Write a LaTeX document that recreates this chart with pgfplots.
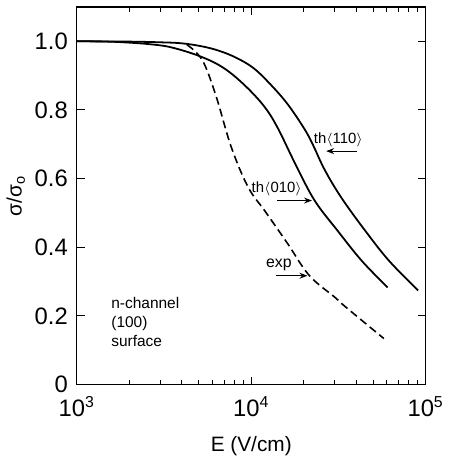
\documentclass[border=0pt]{standalone}
\usepackage{fontspec}
\setmainfont{Liberation Sans}
\usepackage{pgfplots}
\pgfplotsset{compat=1.18}
\usetikzlibrary{arrows.meta}

\begin{document}
\begin{tikzpicture}
\begin{axis}[
   xmode=log,
   scale only axis,
   width=176pt, height=190.5pt,
   xmin=1000, xmax=100000,
   ymin=0, ymax=1.1,
   xtick={1000,10000,100000},
   xticklabels={10\textsuperscript{3},10\textsuperscript{4},10\textsuperscript{5}},
   ytick={0,0.2,0.4,0.6,0.8,1.0},
   yticklabels={0,0.2,0.4,0.6,0.8,1.0},
   tick label style={font=\fontsize{12}{14}\selectfont},
   xticklabel style={yshift=-2.5pt},
   yticklabel style={xshift=-1pt},
   xlabel={E (V/cm)},
   ylabel={σ/σ\textsubscript{o}},
   label style={font=\fontsize{10.5}{12}\selectfont},
   axis line style={line width=0.7pt},
   major tick length=4pt, minor tick length=2.5pt,
   every tick/.style={line width=0.5pt, black},
   xlabel style={yshift=-3pt},
   ylabel style={yshift=-2pt},
   clip=false,
   ]
%% th<110>
\addplot[black, line width=0.9pt, smooth, tension=0.6] coordinates {
 (1000,1.0) (2000,0.999) (3000,0.997) (4000,0.994) (5240,0.985) (6560,0.972)
 (8200,0.952) (10300,0.922) (12800,0.876) (16100,0.818) (20100,0.746)
 (22500,0.70) (26400,0.625) (33000,0.543) (45200,0.447) (61800,0.36)
 (90600,0.274)};
%% th<010>
\addplot[black, line width=0.9pt, smooth, tension=0.6] coordinates {
 (1000,1.0) (1500,0.999) (2000,0.996) (2670,0.991) (3500,0.982) (5100,0.956)
 (6860,0.924) (8990,0.876) (11750,0.813) (14100,0.75) (18000,0.64)
 (23100,0.536) (31400,0.447) (43100,0.36) (60500,0.283)};
%% exp
\addplot[black, line width=0.8pt, smooth, tension=0.6, dash pattern=on 4pt off 2.2pt] coordinates {
 (4280,0.99) (5240,0.945) (6270,0.842) (7670,0.693) (9600,0.575)
 (12000,0.505) (16100,0.412) (21500,0.318) (30200,0.254) (34400,0.228)
 (57600,0.134)};

\node[font=\fontsize{7.5}{9}\selectfont] at (axis cs:31600,0.712) {th$\langle$110$\rangle$};
\draw[-{Stealth[length=4pt]}, line width=0.6pt] (axis cs:40300,0.68) -- (axis cs:26900,0.68);
\node[font=\fontsize{7.5}{9}\selectfont] at (axis cs:14000,0.57) {th$\langle$010$\rangle$};
\draw[-{Stealth[length=4pt]}, line width=0.6pt] (axis cs:14100,0.536) -- (axis cs:22300,0.536);
\node[font=\fontsize{8}{9}\selectfont] at (axis cs:14400,0.35) {exp};
\draw[-{Stealth[length=4pt]}, line width=0.6pt] (axis cs:13800,0.317) -- (axis cs:21000,0.317);
\node[font=\fontsize{7.8}{9.6}\selectfont, align=left, anchor=north west, inner sep=0pt]
  at (axis cs:1570,0.255) {n-channel\\(100)\\surface};
\end{axis}
\path ([yshift=3.5pt]current axis.north);
\end{tikzpicture}
\end{document}
